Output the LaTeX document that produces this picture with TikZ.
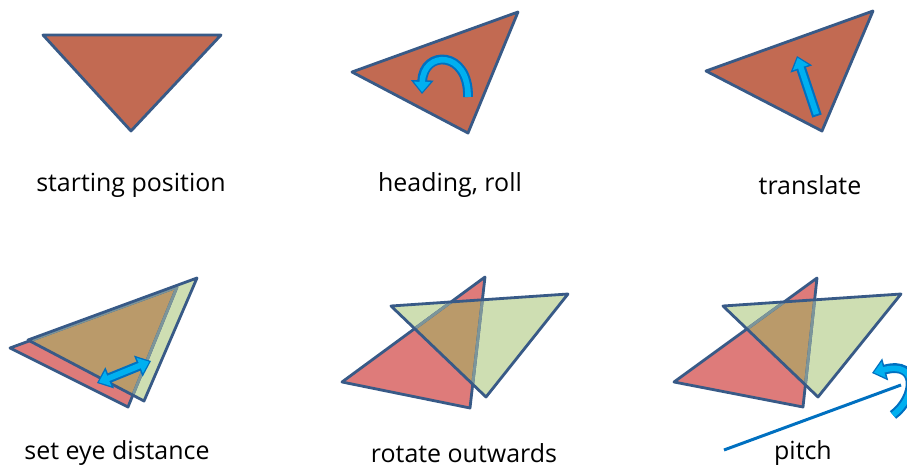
\documentclass[tikz,border=0pt]{standalone}
\usepackage{fontspec}
\setmainfont{Open Sans}
\usetikzlibrary{arrows.meta}
\definecolor{tri}{RGB}{194,106,82}
\definecolor{edge}{RGB}{56,90,135}
\definecolor{redt}{RGB}{222,123,122}
\definecolor{greent}{RGB}{206,222,178}
\definecolor{brownt}{RGB}{186,154,106}
\definecolor{lblue}{RGB}{0,176,240}
\definecolor{dblue}{RGB}{0,112,192}
\tikzset{
  tribox/.style={fill=tri, draw=edge, line width=1.6pt, line join=round},
  outl/.style={draw=edge, line width=1.6pt, line join=round},
  inl/.style={draw=edge!55!greent, line width=1.6pt, line join=round},
  lbl/.style={font=\fontsize{14.2}{16}\selectfont, text=black, inner sep=0pt},
  arrout/.style={draw=dblue, line width=5.6pt},
  arrin/.style={draw=lblue, line width=3.2pt},
  tipout/.style={-{Triangle[length=7.8pt,width=12.5pt]}},
  tipin/.style={-{Triangle[length=5.8pt,width=9pt]}, shorten >=1.1pt},
}
\begin{document}
\begin{tikzpicture}[x=0.02cm, y=-0.02cm]
\useasboundingbox (0,0) rectangle (907,470);
\clip (0,0) rectangle (907,470);

% 1 starting position
\draw[tribox] (43,35) -- (221,35) -- (131,131) -- cycle;
% 2 heading, roll
\draw[tribox] (352,72) -- (518,12) -- (468,133) -- cycle;
\coordinate (h1) at (468,97);
\coordinate (h2) at (422,94);
\draw[arrout, tipout] (h1) .. controls (469,50) and (423,50) .. (h2);
\draw[arrin, tipin] (h1) .. controls (469,50) and (423,50) .. (h2);
% 3 translate
\draw[tribox] (706,71) -- (873,11) -- (822,131) -- cycle;
\coordinate (t1) at (817,116);
\coordinate (t2) at (797,56);
\draw[arrout, tipout] (t1) -- (t2);
\draw[arrin, tipin, shorten <=1.1pt] (t1) -- (t2);

% 4 set eye distance
\def\ra{(10,348) -- (177,287) -- (128,407) -- cycle}
\def\ga{(28,340) -- (197,278) -- (144,401) -- cycle}
\fill[redt] \ra;
\fill[greent] \ga;
\begin{scope}\clip \ra; \fill[brownt] \ga; \end{scope}
\draw[outl] \ra;
\begin{scope}\clip \ga; \draw[inl] \ra; \end{scope}
\draw[outl] \ga;
\coordinate (d1) at (97,383);
\coordinate (d2) at (151,361);
\draw[arrout, {Triangle[length=7.8pt,width=12.5pt]}-{Triangle[length=7.8pt,width=12.5pt]}] (d1) -- (d2);
\draw[arrin, {Triangle[length=5.8pt,width=9pt]}-{Triangle[length=5.8pt,width=9pt]}, shorten >=1.1pt, shorten <=1.1pt] (d1) -- (d2);

% 5 rotate outwards
\def\rb{(342,382) -- (485,277) -- (470,408) -- cycle}
\def\gb{(391,306) -- (568,294) -- (486,397) -- cycle}
\fill[redt] \rb;
\fill[greent] \gb;
\begin{scope}\clip \rb; \fill[brownt] \gb; \end{scope}
\draw[outl] \rb;
\begin{scope}\clip \gb; \draw[inl] \rb; \end{scope}
\draw[outl] \gb;

% 6 pitch
\def\rc{(674,382) -- (817,278) -- (803,407) -- cycle}
\def\gc{(723,306) -- (901,294) -- (818,397) -- cycle}
\fill[redt] \rc;
\fill[greent] \gc;
\begin{scope}\clip \rc; \fill[brownt] \gc; \end{scope}
\draw[outl] \rc;
\begin{scope}\clip \gc; \draw[inl] \rc; \end{scope}
\draw[outl] \gc;
\coordinate (p1) at (724,450);
\coordinate (p2) at (901,385);
\draw[dblue, line width=1.7pt] (p1) -- (p2);
\coordinate (q1) at (893,415);
\coordinate (q2) at (872,373);
\draw[arrout, tipout] (q1) .. controls (916,398) and (920,360) .. (q2);
\draw[arrin, tipin] (q1) .. controls (916,398) and (920,360) .. (q2);

% labels
\node[lbl] (l1) at (131,185) {starting position};
\node[lbl] (l2) at (450,185) {heading, roll};
\node[lbl] (l3) at (810,185) {translate};
\node[lbl] (l4) at (117,453) {set eye distance};
\node[lbl] (l5) at (464,453) {rotate outwards};
\node[lbl] (l6) at (803,453) {pitch};
\end{tikzpicture}
\end{document}
